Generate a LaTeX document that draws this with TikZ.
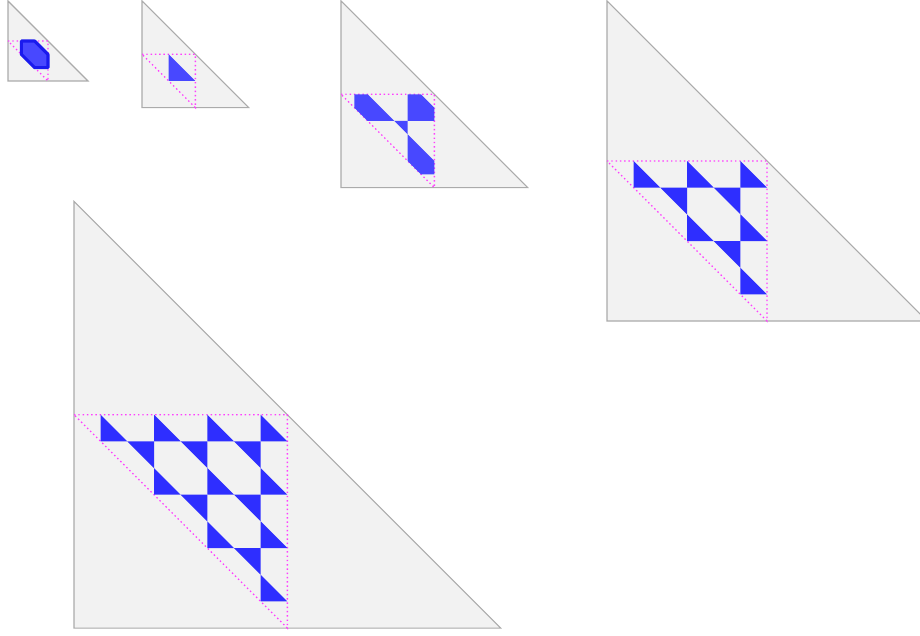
\documentclass[tikz,border=0pt]{standalone}
\definecolor{panelfill}{HTML}{F2F2F2}
\definecolor{panelline}{HTML}{ABABAB}
\definecolor{dotmag}{HTML}{FF3DFF}
\definecolor{blueA}{HTML}{2E2EFF}
\definecolor{blueB}{HTML}{4848FF}
\definecolor{blueEdge}{HTML}{1A1AEE}
\tikzset{
  bigtri/.style={fill=panelfill, draw=panelline, line width=0.8pt, line join=miter},
  guide/.style={draw=dotmag, line width=1pt, dash pattern=on 1.1pt off 2.1pt},
  tileA/.style={fill=blueA},
  tileB/.style={fill=blueB},
  hexa/.style={fill=blueB, draw=blueEdge, line width=2.3pt, line join=round},
}
\begin{document}
\begin{tikzpicture}[x=0.75pt, y=-0.75pt]
\useasboundingbox (0,0) rectangle (920,635);
\clip (0,0) rectangle (920,635);
\fill[white] (0,0) rectangle (920,635);

% Panel 1, n = 1.5
\begin{scope}[shift={(8,41)}, x=20pt, y=-20pt]
  \path[bigtri] (0,-1.5) -- (0,1.5) -- (3,1.5) -- cycle;
  \path[guide] (0,0) -- (1.5,0) -- (1.5,1.5) -- cycle;
  \path[hexa] (0.5,0) -- (1,0) -- (1.5,0.5) -- (1.5,1) -- (1,1) -- (0.5,0.5) -- cycle;
\end{scope}

% Panel 2, n = 2
\begin{scope}[shift={(142,54.3)}, x=20pt, y=-20pt]
  \path[bigtri] (0,-2) -- (0,2) -- (4,2) -- cycle;
  \path[guide] (0,0) -- (2,0) -- (2,2) -- cycle;
  \fill[tileB] (1,0) -- (1,1) -- (2,1) -- cycle;
\end{scope}

% Panel 3, n = 3.5
\begin{scope}[shift={(341,94.3)}, x=20pt, y=-20pt]
  \path[bigtri] (0,-3.5) -- (0,3.5) -- (7,3.5) -- cycle;
  \path[guide] (0,0) -- (3.5,0) -- (3.5,3.5) -- cycle;
  \fill[tileB] (0.5,0) -- (1,0) -- (2,1) -- (1,1) -- (0.5,0.5) -- cycle;
  \fill[tileB] (2,1) -- (2.5,1) -- (2.5,1.5) -- cycle;
  \fill[tileB] (2.5,0) -- (3,0) -- (3.5,0.5) -- (3.5,1) -- (2.5,1) -- cycle;
  \fill[tileB] (2.5,1.5) -- (3.5,2.5) -- (3.5,3) -- (3,3) -- (2.5,2.5) -- cycle;
\end{scope}

% Panel 4, n = 6
\begin{scope}[shift={(607,161)}, x=20pt, y=-20pt]
  \path[bigtri] (0,-6) -- (0,6) -- (12,6) -- cycle;
  \path[guide] (0,0) -- (6,0) -- (6,6) -- cycle;
  \foreach \c/\r in {1/0,3/0,5/0,3/2,5/2,5/4}
    \fill[tileA] (\c,\r) -- ++(0,1) -- ++(1,0) -- cycle;
  \foreach \c/\r in {2/1,4/1,4/3}
    \fill[tileA] (\c,\r) -- ++(1,0) -- ++(0,1) -- cycle;
\end{scope}

% Panel 5, n = 8
\begin{scope}[shift={(74,414.7)}, x=20pt, y=-20pt]
  \path[bigtri] (0,-8) -- (0,8) -- (16,8) -- cycle;
  \path[guide] (0,0) -- (8,0) -- (8,8) -- cycle;
  \foreach \c/\r in {1/0,3/0,5/0,7/0,3/2,5/2,7/2,5/4,7/4,7/6}
    \fill[tileA] (\c,\r) -- ++(0,1) -- ++(1,0) -- cycle;
  \foreach \c/\r in {2/1,4/1,6/1,4/3,6/3,6/5}
    \fill[tileA] (\c,\r) -- ++(1,0) -- ++(0,1) -- cycle;
\end{scope}
\end{tikzpicture}
\end{document}
